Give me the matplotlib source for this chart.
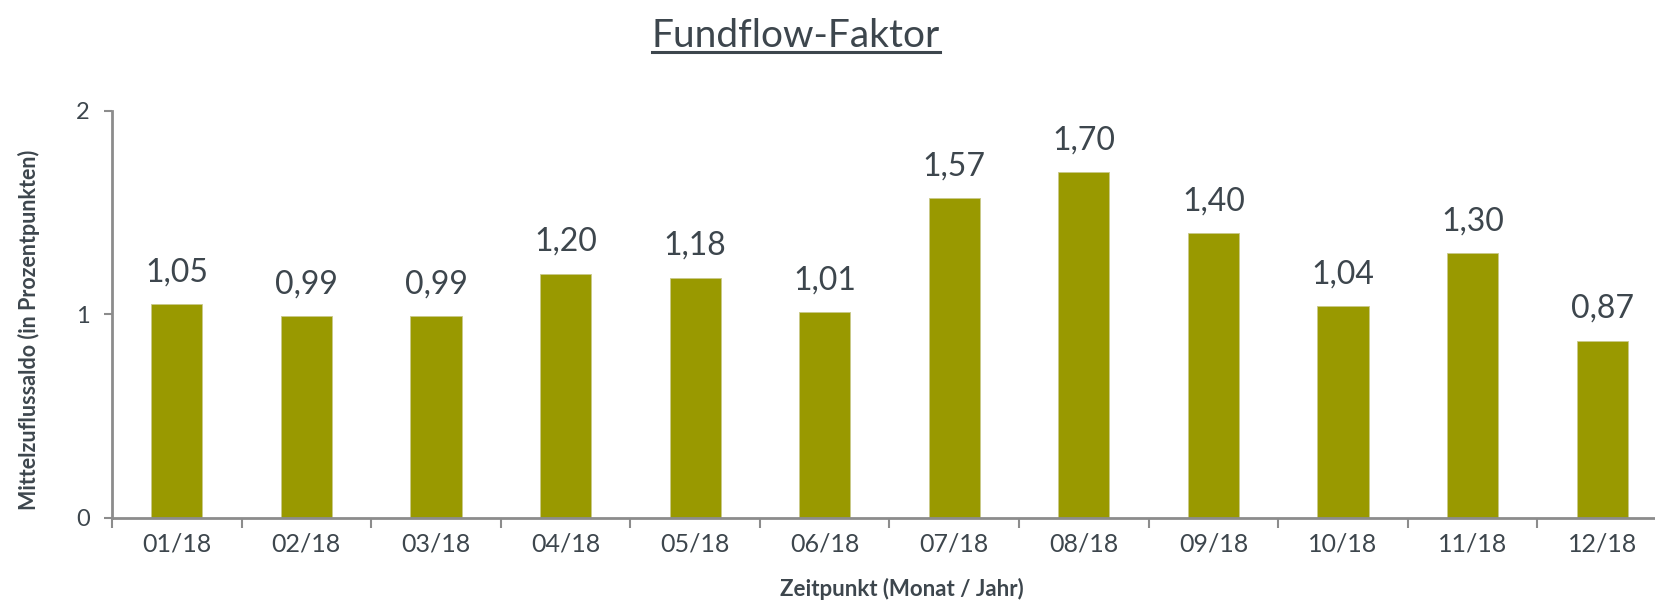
import numpy as np
import matplotlib.pyplot as plt
from matplotlib.lines import Line2D

# Daten
monate = ['01/18', '02/18', '03/18', '04/18', '05/18', '06/18',
          '07/18', '08/18', '09/18', '10/18', '11/18', '12/18']
werte = [1.05, 0.99, 0.99, 1.20, 1.18, 1.01, 1.57, 1.70, 1.40, 1.04, 1.30, 0.87]

plt.rcParams['font.family'] = ['Lato', 'DejaVu Sans']

farbe_bar = '#999900'
farbe_text = '#3d464d'
farbe_achse = '#8c8c8c'

W, H = 1655, 601
fig = plt.figure(figsize=(W / 100, H / 100), dpi=100)
links, rechts, unten, oben = 112, 1667, 517.7, 110.7
ax = fig.add_axes([links / W, 1 - unten / H, (rechts - links) / W, (unten - oben) / H])

x = np.arange(len(monate))
ax.bar(x, werte, width=0.395, color=farbe_bar, edgecolor='#c9c98a', linewidth=0.6)

for xi, v in zip(x, werte):
    ax.annotate(f'{v:.2f}'.replace('.', ','), (xi, v), xytext=(0, 12),
                textcoords='offset points', ha='center', va='bottom',
                fontsize=23, color=farbe_text)

ax.set_xlim(-0.5, len(monate) - 0.5)
ax.set_ylim(0, 2)
ax.set_yticks([0, 1, 2])
ax.set_yticklabels(['0', '1', '2'])
ax.set_xticks(x)
ax.set_xticklabels(monate)
ax.set_xticks(np.arange(len(monate) + 1) - 0.5, minor=True)

for s in ['top', 'right']:
    ax.spines[s].set_visible(False)
for s in ['left', 'bottom']:
    ax.spines[s].set_color(farbe_achse)
    ax.spines[s].set_linewidth(2)

ax.tick_params(axis='x', which='major', length=0, pad=11, labelsize=18, labelcolor=farbe_text)
ax.tick_params(axis='x', which='minor', length=7, width=1.5, color=farbe_achse, direction='out')
ax.tick_params(axis='y', length=6, width=1.5, color=farbe_achse, pad=10,
               labelsize=17, labelcolor=farbe_text)

# Titel mit Unterstreichung
titel = fig.text(796 / W, 1 - 47 / H, 'Fundflow-Faktor', ha='center', va='baseline',
                 fontsize=28, color=farbe_text)
fig.canvas.draw()
bb = titel.get_window_extent()
fig.add_artist(Line2D([bb.x0 / W, bb.x1 / W], [1 - 52 / H, 1 - 52 / H],
                      color=farbe_text, linewidth=2.2))

fig.text(29 / W, 1 - 330 / H, 'Mittelzuflussaldo (in Prozentpunkten)', rotation=90,
         ha='center', va='center', fontsize=15.5, fontweight='bold', color=farbe_text)
fig.text(902 / W, 1 - 589 / H, 'Zeitpunkt (Monat / Jahr)', ha='center', va='center',
         fontsize=16, fontweight='bold', color=farbe_text)

fig.savefig('out.png', dpi=100)
